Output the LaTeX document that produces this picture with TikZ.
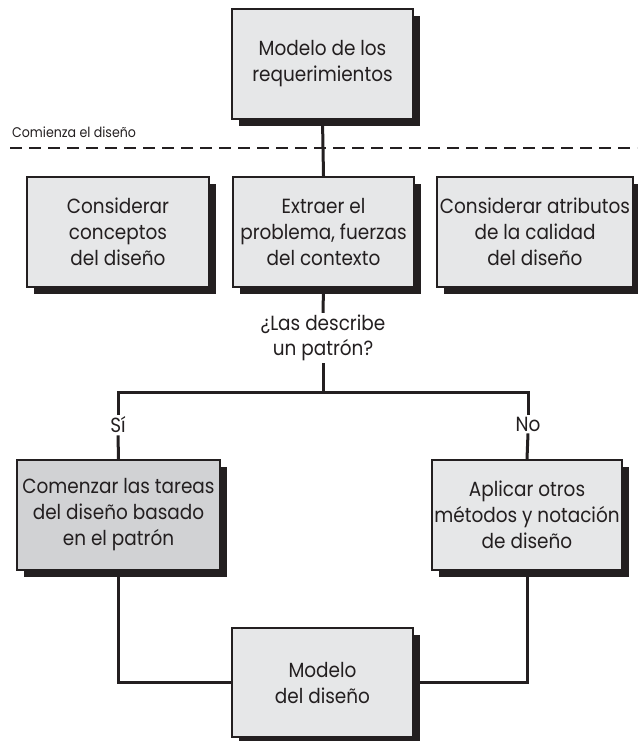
\documentclass[tikz,border=0pt]{standalone}
\usepackage{fontspec}
\setmainfont{Poppins}[FakeStretch=0.9]
\usepackage{tikz}
\usetikzlibrary{arrows.meta, positioning, calc, shadows}
\definecolor{boxgray}{HTML}{E6E7E8}
\definecolor{pattgray}{HTML}{D1D2D4}
\definecolor{inkblack}{HTML}{231F20}

\tikzset{
  stepbox/.style={draw=inkblack, line width=2.2pt, fill=boxgray, align=center,
    minimum height=110pt, inner sep=0pt,
    font=\fontsize{20.5}{26}\selectfont, text=inkblack,
    drop shadow={shadow xshift=7pt, shadow yshift=-7pt, fill=inkblack, opacity=1}},
  conn/.style={draw=inkblack, line width=3pt},
  lbl/.style={font=\fontsize{20.5}{25}\selectfont, text=inkblack, align=center, inner sep=2pt}
}

\begin{document}
\begin{tikzpicture}[x=1pt, y=-1pt]
  \useasboundingbox (0,0) rectangle (637,741);

  % boxes
  \node[stepbox, minimum width=181pt] (req)  at (322.5, 64)  {Modelo de los\\requerimientos};
  \node[stepbox, minimum width=182pt] (conc) at (118, 232)   {Considerar\\conceptos\\del diseño};
  \node[stepbox, minimum width=181pt] (extr) at (323.5, 232) {Extraer el\\problema, fuerzas\\del contexto};
  \node[stepbox, minimum width=196pt] (attr) at (535, 232)   {Considerar atributos\\de la calidad\\del diseño};
  \node[stepbox, minimum width=203pt, fill=pattgray] (patt) at (118.5, 515) {Comenzar las tareas\\del diseño basado\\en el patrón};
  \node[stepbox, minimum width=190pt] (meth) at (527, 515)   {Aplicar otros\\métodos y notación\\de diseño};
  \node[stepbox, minimum width=181pt, minimum height=109pt] (dmod) at (322.5, 682.5) {Modelo\\del diseño};

  % labels
  \node[lbl] (quest) at (323, 338) {¿Las describe\\un patrón?};
  \node[lbl] (yes) at (118, 425) {Sí};
  \node[lbl] (no)  at (528, 424) {No};
  \node[font=\fontsize{14}{17}\selectfont, text=inkblack, anchor=base west, inner sep=0pt]
    (start) at (12, 138) {Comienza el diseño};

  % start of design
  \coordinate (dashL) at (10, 148);
  \coordinate (dashR) at (637, 148);
  \draw[inkblack, line width=2pt, dash pattern=on 12pt off 7pt] (dashL) -- (dashR);

  % connectors
  \coordinate (fork) at (323, 392);
  \coordinate (forkL) at (118, 392);
  \coordinate (forkR) at (528, 392);
  \draw[conn] (req.south) -- (extr.north);
  \draw[conn] (extr.south) -- (quest.north);
  \draw[conn] (quest.south) -- (fork);
  \draw[conn] (yes.north) -- (forkL) -- (forkR) -- (no.north);
  \draw[conn] (yes.south) -- (patt.north);
  \draw[conn] (no.south) -- (meth.north);
  \draw[conn] (patt.south) |- (dmod.west);
  \draw[conn] (meth.south) |- (dmod.east);
\end{tikzpicture}
\end{document}
